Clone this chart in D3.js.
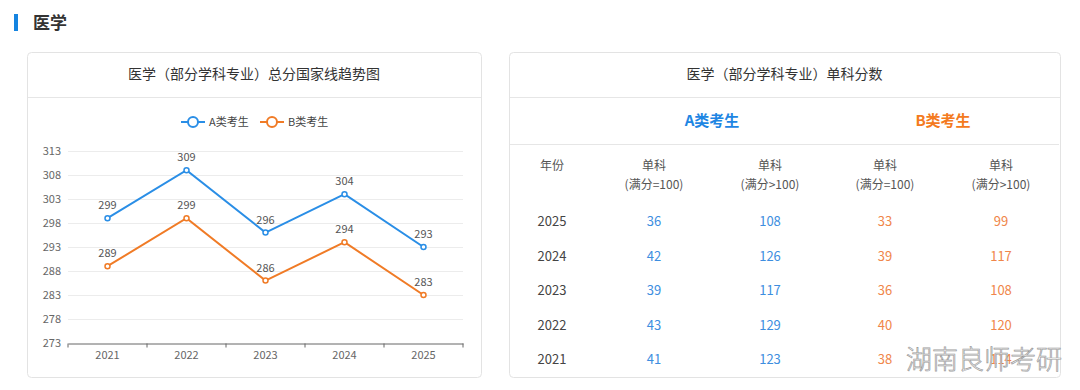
<!DOCTYPE html>
<html>
<head>
<meta charset="utf-8">
<script src="https://cdn.jsdelivr.net/npm/d3@7"></script>
<style>
	body { margin: 0; background: #fff; font-family: "Noto Sans CJK SC", "Noto Sans", sans-serif; }
	svg text { font-family: "Noto Sans CJK SC", "Noto Sans", sans-serif; }
</style>
</head>
<body>
<svg id="root" width="1080" height="390"></svg>
<script>
// data
var years = ["2021", "2022", "2023", "2024", "2025"];
var scoreA = [299, 309, 296, 304, 293];
var scoreB = [289, 299, 286, 294, 283];
var yTicks = [273, 278, 283, 288, 293, 298, 303, 308, 313];

var tableYears = ["2025", "2024", "2023", "2022", "2021"];
var singleA100 = [36, 42, 39, 43, 41];
var singleAOver = [108, 126, 117, 129, 123];
var singleB100 = [33, 39, 36, 40, 38];
var singleBOver = [99, 117, 108, 120, 114];

var blue = "#2a8ee6";
var orange = "#f07b26";

var svg = d3.select("#root");

// section heading
svg.append("rect").attr("x", 14).attr("y", 14).attr("width", 4).attr("height", 17).attr("fill", "#1584e0");
svg.append("text").attr("x", 33).attr("y", 29).attr("font-size", 17).attr("font-weight", "bold")
	.attr("fill", "#333").text("医学");

// cards
function card(x, w, title) {
	svg.append("rect").attr("x", x + 0.5).attr("y", 52.5).attr("width", w).attr("height", 325)
		.attr("rx", 4).attr("fill", "#fff").attr("stroke", "#e3e3e3");
	svg.append("line").attr("x1", x + 1).attr("x2", x + w).attr("y1", 97.5).attr("y2", 97.5).attr("stroke", "#e6e6e6");
	svg.append("text").attr("x", x + w / 2).attr("y", 79).attr("text-anchor", "middle")
		.attr("font-size", 14).attr("fill", "#333").text(title);
}
card(27, 454, "医学（部分学科专业）总分国家线趋势图");
card(509, 551, "医学（部分学科专业）单科分数");

// LINE CHART
var xScale = d3.scaleBand().domain(years).range([68, 463]);
var yScale = d3.scaleLinear().domain([273, 313]).range([343, 151]);

var g = svg.append("g");

// grid
g.selectAll("line.grid").data(yTicks.slice(1)).enter().append("line")
	.attr("x1", 68).attr("x2", 463)
	.attr("y1", d => yScale(d) + 0.5).attr("y2", d => yScale(d) + 0.5)
	.attr("stroke", "#ececec");

var yAxis = d3.axisLeft(yScale).tickValues(yTicks).tickSize(0).tickPadding(7);
g.append("g").attr("transform", "translate(68,0)").call(yAxis)
	.call(a => a.select(".domain").remove())
	.call(a => a.selectAll("text").attr("font-size", 11).attr("fill", "#666"));

var xAxis = d3.axisBottom(xScale).tickSize(0).tickPadding(8);
var xg = g.append("g").attr("transform", "translate(0,343.5)").call(xAxis);
xg.select(".domain").attr("stroke", "#666");
xg.selectAll("text").attr("font-size", 11).attr("fill", "#666");
// band boundary ticks
xg.selectAll("line.bt").data(years.concat(["end"])).enter().append("line")
	.attr("x1", (d, i) => i < years.length ? xScale(d) : xScale.range()[1])
	.attr("x2", (d, i) => i < years.length ? xScale(d) : xScale.range()[1])
	.attr("y1", 0).attr("y2", 4).attr("stroke", "#666");

var cx = d => xScale(d) + xScale.bandwidth() / 2;

function series(values, color) {
	var pts = years.map((y, i) => [cx(y), yScale(values[i])]);
	g.append("path").attr("d", d3.line()(pts)).attr("fill", "none")
		.attr("stroke", color).attr("stroke-width", 2);
	g.selectAll(null).data(pts).enter().append("circle")
		.attr("cx", d => d[0]).attr("cy", d => d[1]).attr("r", 2.5)
		.attr("fill", "#fff").attr("stroke", color).attr("stroke-width", 1.5);
	g.selectAll(null).data(values).enter().append("text")
		.attr("x", (d, i) => pts[i][0]).attr("y", (d, i) => pts[i][1] - 9)
		.attr("text-anchor", "middle").attr("font-size", 11).attr("fill", "#555").text(d => d);
}
series(scoreA, blue);
series(scoreB, orange);

// legend
var legend = [["A类考生", blue], ["B类考生", orange]];
var lg = svg.append("g").selectAll("g").data(legend).enter().append("g")
	.attr("transform", (d, i) => "translate(" + (181 + i * 79) + ",122)");
lg.append("line").attr("x1", 0).attr("x2", 24).attr("stroke", d => d[1]).attr("stroke-width", 2);
lg.append("circle").attr("cx", 12).attr("r", 5).attr("fill", "#fff").attr("stroke", d => d[1]).attr("stroke-width", 2);
lg.append("text").attr("x", 28).attr("y", 4).attr("font-size", 11).attr("fill", "#444").text(d => d[0]);

// TABLE
var colKeys = ["year", "a100", "aover", "b100", "bover"];
var colX = { year: 552, a100: 654, aover: 770, b100: 885, bover: 1001 };
var rowScale = d3.scalePoint().domain(tableYears).range([221, 359]);

svg.append("text").attr("x", 712).attr("y", 126).attr("text-anchor", "middle")
	.attr("font-size", 15).attr("font-weight", "bold").attr("fill", "#1e86e3").text("A类考生");
svg.append("text").attr("x", 943).attr("y", 126).attr("text-anchor", "middle")
	.attr("font-size", 15).attr("font-weight", "bold").attr("fill", "#f47a20").text("B类考生");
svg.append("line").attr("x1", 510).attr("x2", 1059).attr("y1", 144.5).attr("y2", 144.5).attr("stroke", "#e6e6e6");

var headers = [["year", "年份", ""], ["a100", "单科", "(满分=100)"], ["aover", "单科", "(满分>100)"],
	["b100", "单科", "(满分=100)"], ["bover", "单科", "(满分>100)"]];
var hg = svg.append("g").selectAll("g").data(headers).enter().append("g");
hg.append("text").attr("x", d => colX[d[0]]).attr("y", 170).attr("text-anchor", "middle")
	.attr("font-size", 12).attr("fill", "#555").text(d => d[1]);
hg.append("text").attr("x", d => colX[d[0]]).attr("y", 189).attr("text-anchor", "middle")
	.attr("font-size", 12).attr("fill", "#555").text(d => d[2]);

var cols = [["year", tableYears, "#444"], ["a100", singleA100, "#3d8ee0"], ["aover", singleAOver, "#3d8ee0"],
	["b100", singleB100, "#f0864a"], ["bover", singleBOver, "#f0864a"]];
cols.forEach(c => {
	svg.append("g").selectAll("text").data(c[1]).enter().append("text")
		.attr("x", colX[c[0]]).attr("y", (d, i) => rowScale(tableYears[i]) + 5)
		.attr("text-anchor", "middle").attr("font-size", 13).attr("fill", c[2]).text(d => d);
});

// watermark (overlays the last cell, as in the source image)
svg.append("text").attr("x", 906).attr("y", 369).attr("font-size", 26)
	.attr("font-weight", 300).attr("fill", "#fff").attr("fill-opacity", 0.85)
	.attr("stroke", "#9a9a9a").attr("stroke-width", 0.7)
	.text("湖南良师考研");
</script>
</body>
</html>
